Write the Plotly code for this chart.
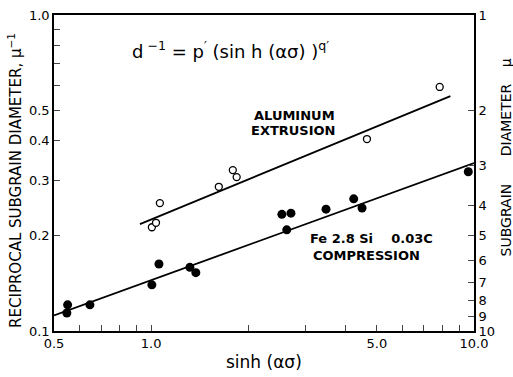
import plotly.graph_objects as go

# Fe 2.8 Si 0.03C compression (filled)
fe_x = [0.548, 0.551, 0.646, 1.005, 1.057, 1.318, 1.375, 2.54, 2.71, 2.63, 3.48, 4.24, 4.5, 9.6]
fe_y = [0.114, 0.121, 0.121, 0.140, 0.163, 0.159, 0.153, 0.234, 0.236, 0.209, 0.243, 0.262, 0.245, 0.319]
# Aluminum extrusion (open)
al_x = [1.005, 1.035, 1.064, 1.62, 1.79, 1.84, 4.66, 7.83]
al_y = [0.213, 0.220, 0.254, 0.286, 0.323, 0.307, 0.405, 0.592]
# fitted lines (endpoints)
fe_fit_x = [0.5, 10.0]
fe_fit_y = [0.112, 0.34]
al_fit_x = [0.923, 8.45]
al_fit_y = [0.218, 0.554]

x_ticks = [0.5, 0.6, 0.7, 0.8, 0.9, 1.0, 2, 3, 4, 5, 6, 7, 8, 9, 10]
x_labels = ["0.5", "", "", "", "", "1.0", "", "", "", "5.0", "", "", "", "", "10.0"]
y_ticks = [0.1, 0.2, 0.3, 0.4, 0.5, 0.6, 0.7, 0.8, 0.9, 1.0]
y_labels = ["0.1", "0.2", "0.3", "0.4", "0.5", "", "", "", "", "1.0"]
d_ticks = [1, 2, 3, 4, 5, 6, 7, 8, 9, 10]
d_labels = [str(d) for d in d_ticks]

FONT = "DejaVu Sans"
fig = go.Figure()
line_style = dict(color="black", width=1.8)
fig.add_trace(go.Scatter(x=fe_fit_x, y=fe_fit_y, mode="lines", line=line_style, showlegend=False))
fig.add_trace(go.Scatter(x=al_fit_x, y=al_fit_y, mode="lines", line=line_style, showlegend=False))
fig.add_trace(go.Scatter(x=fe_x, y=fe_y, mode="markers",
                         marker=dict(color="black", size=9), showlegend=False))
fig.add_trace(go.Scatter(x=al_x, y=al_y, mode="markers",
                         marker=dict(color="white", size=7, line=dict(color="black", width=1.3)),
                         showlegend=False))
fig.add_trace(go.Scatter(x=[None], y=[None], yaxis="y2", showlegend=False, hoverinfo="skip"))

fig.update_layout(
    width=513, height=377,
    margin=dict(l=54, r=39, t=15, b=46, autoexpand=False),
    paper_bgcolor="white", plot_bgcolor="white",
    font=dict(family=FONT, color="black", size=13),
    xaxis=dict(type="log", range=[-0.30103, 1.0], tickvals=x_ticks, ticktext=x_labels,
               ticks="inside", ticklen=6, tickwidth=1.2, showgrid=False, zeroline=False,
               showline=True, linecolor="black", linewidth=1.6, mirror=True,
               tickfont=dict(size=13, family=FONT)),
    yaxis=dict(type="log", range=[-1, 0], tickvals=y_ticks, ticktext=y_labels,
               ticks="inside", ticklen=6, tickwidth=1.2, showgrid=False, zeroline=False,
               showline=True, linecolor="black", linewidth=1.6,
               tickfont=dict(size=13, family=FONT)),
    yaxis2=dict(type="log", range=[-1, 0], overlaying="y", side="right", anchor="x",
                tickvals=[1.0 / d for d in d_ticks], ticktext=d_labels,
                ticks="inside", ticklen=6, tickwidth=1.2, showgrid=False, zeroline=False,
                showline=True, linecolor="black", linewidth=1.6,
                tickfont=dict(size=13, family=FONT)),
)

def txt(x, y, text, size=14, angle=0, xanchor="center", bold=True):
    fig.add_annotation(xref="paper", yref="paper", x=x, y=y,
                       text=f"<b>{text}</b>" if bold else text, textangle=angle,
                       xanchor=xanchor, yanchor="middle", showarrow=False,
                       font=dict(family=FONT, size=size, color="black"))

txt(-0.093, 0.478, "RECIPROCAL SUBGRAIN DIAMETER, μ<sup>−1</sup>", size=15, angle=-90, bold=False)
txt(1.077, 0.848, "μ", size=14, angle=-90, bold=False)
txt(1.077, 0.668, "DIAMETER", size=14, angle=-90, bold=False)
txt(1.077, 0.351, "SUBGRAIN", size=14, angle=-90, bold=False)
txt(0.5, -0.098, "sinh (ασ)", size=17, bold=False)
txt(0.18, 0.89, "d<sup> −1</sup> = p<sup>′</sup> (sin h (ασ) )<sup>q′</sup>", size=18,
    xanchor="left", bold=False)
txt(0.573, 0.681, "ALUMINUM", size=13)
txt(0.570, 0.633, "EXTRUSION", size=13)
txt(0.755, 0.294, "Fe 2.8 Si    0.03C", size=13)
txt(0.745, 0.240, "COMPRESSION", size=13)

fig.write_html("out.html", post_script="document.body.style.margin='0px';",
               config={"displayModeBar": False})
